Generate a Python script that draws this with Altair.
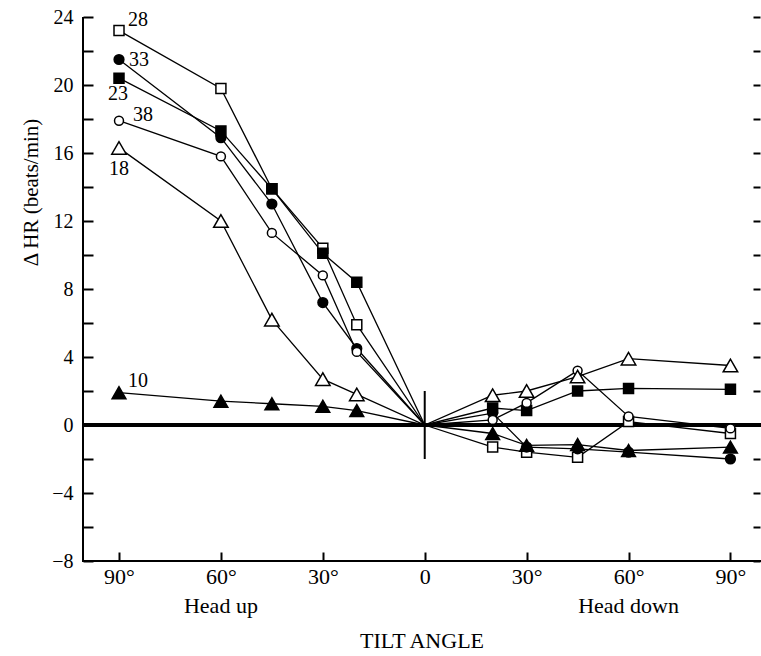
import altair as alt
import pandas as pd

# ---- data ----
angles = [-90, -60, -45, -30, -20, 0, 20, 30, 45, 60, 90]
series_names = ["28", "33", "23", "38", "18", "10"]
s28 = [23.2, 19.8, 13.9, 10.4, 5.9, 0, -1.3, -1.6, -1.9, 0.2, -0.5]
s33 = [21.5, 16.9, 13.0, 7.2, 4.5, 0, 0.7, -1.3, -1.4, -1.6, -2.0]
s23 = [20.4, 17.3, 13.9, 10.1, 8.4, 0, 1.0, 0.85, 2.0, 2.15, 2.1]
s38 = [17.9, 15.8, 11.3, 8.8, 4.3, 0, 0.3, 1.3, 3.2, 0.5, -0.2]
s18 = [16.3, 12.0, 6.2, 2.7, 1.8, 0, 1.75, 2.0, 2.85, 3.9, 3.5]
s10 = [1.9, 1.4, 1.25, 1.1, 0.85, 0, -0.5, -1.2, -1.15, -1.5, -1.3]
x_ticks = [-90, -60, -30, 0, 30, 60, 90]
y_ticks = [-8, -6, -4, -2, 0, 2, 4, 6, 8, 10, 12, 14, 16, 18, 20, 22, 24]
side_labels = ["Head up", "Head down"]
side_angles = [-60, 60]

all_series = [s28, s33, s23, s38, s18, s10]
rows = []
for name, vals in zip(series_names, all_series):
    for a, v in zip(angles, vals):
        rows.append({"series": name, "angle": a, "value": v})
df = pd.DataFrame(rows)
side_df = pd.DataFrame({"angle": side_angles, "text": side_labels})

# ---- styles ----
FONT = "Liberation Serif"
W, H = 677, 544
marker_style = {
    "28": ("square", "white", 100),
    "33": ("circle", "black", 95),
    "23": ("square", "black", 100),
    "38": ("circle", "white", 80),
    "18": ("triangle-up", "white", 210),
    "10": ("triangle-up", "black", 190),
}

xscale = alt.Scale(domain=[-100.6, 98.7], nice=False, zero=False)
yscale = alt.Scale(domain=[-8, 24], nice=False, zero=False)

x_axis = alt.Axis(
    values=x_ticks,
    labelExpr="datum.value == 0 ? '0' : abs(datum.value) + '\u00b0'",
    offset=-9, domain=False, tickSize=9, tickWidth=2, tickColor="black",
    labelPadding=5, labelFont=FONT, labelFontSize=22,
    labelColor="black", labelFlush=False, labelOverlap=False,
    grid=False, title="TILT ANGLE", titleFont=FONT, titleFontSize=22,
    titleFontWeight="normal", titleColor="black", titlePadding=43,
)

y_axis_left = alt.Axis(
    values=y_ticks,
    labelExpr="datum.value % 4 != 0 ? '' : datum.value < 0 ? '\u2212' + abs(datum.value) : datum.label",
    offset=-10, domain=False, tickSize=10, tickWidth=2, tickColor="black",
    labelPadding=10, labelFont=FONT, labelFontSize=20, labelColor="black",
    labelFlush=False, labelOverlap=False, grid=False,
    title="\u0394 HR (beats/min)", titleFont=FONT, titleFontSize=21,
    titleFontWeight="normal", titleColor="black", titleAngle=270,
    titleAlign="center", titleBaseline="middle", titleX=-62, titleY=175,
)

y_axis_right = alt.Axis(
    orient="right", values=y_ticks, offset=-7, domain=False, tickSize=7,
    tickWidth=2, tickColor="black", labels=False, grid=False, title=None,
)

base = alt.Chart(df)
X = alt.X("angle:Q", scale=xscale, axis=x_axis)

lines = base.mark_line(color="black", strokeWidth=1.3).encode(
    x=X,
    y=alt.Y("value:Q", scale=yscale, axis=y_axis_left),
    detail="series:N",
)

point_layers = []
for i, name in enumerate(series_names):
    shp, fll, sz = marker_style[name]
    point_layers.append(
        base.transform_filter(
            (alt.datum.series == name) & (alt.datum.angle != 0)
        ).mark_point(
            shape=shp, fill=fll, filled=True, stroke="black", strokeWidth=1.5,
            size=sz, opacity=1, fillOpacity=1,
        ).encode(
            x=X,
            y=alt.Y("value:Q", scale=yscale, axis=y_axis_right if i == 0 else None),
        )
    )

label_offsets = {"28": (19, -11), "33": (20, 0), "23": (-1, 16),
                 "38": (24, -6), "18": (0, 21), "10": (19, -12)}
label_layers = []
for name in series_names:
    dx, dy = label_offsets[name]
    label_layers.append(
        base.transform_filter(
            (alt.datum.series == name) & (alt.datum.angle == -90)
        ).mark_text(font=FONT, fontSize=20, color="black", dx=dx, dy=dy,
                    align="center", baseline="middle").encode(
            x=X,
            y=alt.Y("value:Q", scale=yscale, axis=None),
            text="series:N",
        )
    )

side_text = alt.Chart(side_df).mark_text(
    font=FONT, fontSize=22, color="black", align="center", baseline="alphabetic"
).encode(
    x=X,
    y=alt.value(596),
    text="text:N",
)

zero_line = alt.Chart(df).mark_rule(color="black", strokeWidth=2.5).encode(
    y=alt.YDatum(0, scale=yscale, axis=None),
    x=alt.value(0), x2=alt.value(W + 1),
)
center_df = pd.DataFrame({"angle": [0], "lo": [-2], "hi": [2]})
center_line = alt.Chart(center_df).mark_rule(color="black", strokeWidth=2).encode(
    x=X,
    y=alt.Y("lo:Q", scale=yscale, axis=None),
    y2="hi:Q",
)
left_line = alt.Chart(df).mark_rule(color="black", strokeWidth=2).encode(
    x=alt.value(0), y=alt.value(0), y2=alt.value(H),
)
bottom_line = alt.Chart(df).mark_rule(color="black", strokeWidth=2).encode(
    y=alt.value(H), x=alt.value(-1), x2=alt.value(W + 1),
)

chart = alt.layer(
    lines, zero_line, center_line, left_line, bottom_line, *point_layers,
    side_text, *label_layers
).resolve_axis(y="independent").properties(
    width=W, height=H,
    autosize=alt.AutoSizeParams(type="none"),
    padding={"left": 83, "top": 17, "right": 1, "bottom": 95},
    background="white",
).configure_view(stroke=None)

chart.save("out.html", embed_options={"renderer": "svg", "actions": False})
